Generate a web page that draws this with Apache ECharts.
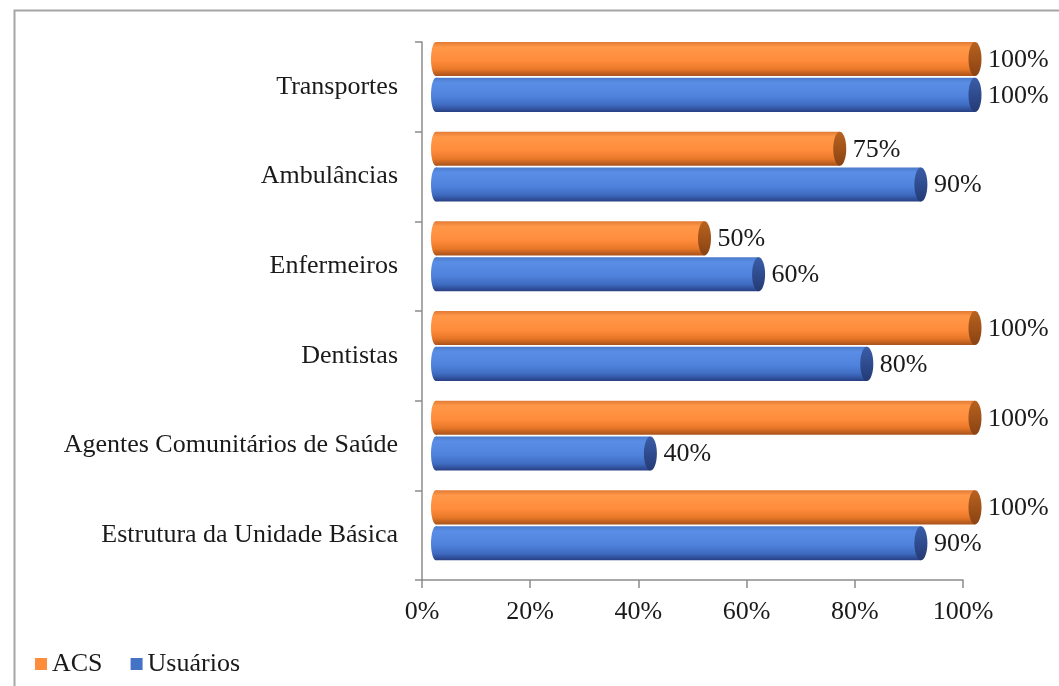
<!DOCTYPE html>
<html>
<head>
<meta charset="utf-8">
<script src="https://cdn.jsdelivr.net/npm/echarts@6/dist/echarts.min.js"></script>
<style>
  html, body { margin: 0; padding: 0; background: #fff; }
  #chart { width: 1059px; height: 686px; }
</style>
</head>
<body>
<div id="chart"></div>
<script>
  // categories from bottom to top (category axis grows upwards)
  const categories = ['Estrutura da Unidade Básica', 'Agentes Comunitários de Saúde', 'Dentistas',
                      'Enfermeiros', 'Ambulâncias', 'Transportes'];
  const acsValues = [100, 100, 100, 50, 75, 100];
  const usuariosValues = [90, 40, 80, 60, 90, 100];
  const xTicks = [0, 20, 40, 60, 80, 100];

  const FONT = '"Liberation Serif", "DejaVu Serif", serif';
  const FS = 26;

  // colours for the fake 3D cylinders
  const palettes = {
    ACS: {
      legend: '#FF8C3A',
      body: ['#E27A35', '#FF9848', '#FF8C3C', '#E87828', '#A8521A'],
      cap: ['#B8621F', '#8A4313']
    },
    'Usuários': {
      legend: '#4472C4',
      body: ['#4B7BCB', '#5A8EE6', '#4F82DC', '#3E6BC0', '#283F84'],
      cap: ['#3A5DA8', '#243A75']
    }
  };

  function grad(stops) {
    return new echarts.graphic.LinearGradient(0, 0, 0, 1, [
      { offset: 0, color: stops[0] },
      { offset: 0.15, color: stops[1] },
      { offset: 0.55, color: stops[2] },
      { offset: 0.8, color: stops[3] },
      { offset: 1, color: stops[4] }
    ]);
  }

  // ACS bar sits in the upper part of the band, Usuários just below it
  function makeRender(name, upper) {
    const pal = palettes[name];
    return function (params, api) {
      const cat = api.value(0);
      const val = api.value(1);
      const p0 = api.coord([0, cat]);
      const p1 = api.coord([val, cat]);
      const band = api.size([0, 1])[1];
      const h = band * 0.38;
      const top = upper ? p0[1] - band * 0.5 : p0[1] - band * 0.5 + h + band * 0.02;
      const dx = 12;
      const x0 = p0[0] + dx;
      const x1 = p1[0] + dx;
      const cy = top + h / 2;
      return {
        type: 'group',
        children: [
          { type: 'ellipse', shape: { cx: x0 + 2, cy: cy, rx: 5, ry: h / 2 },
            style: { fill: grad(pal.body) } },
          { type: 'rect', shape: { x: x0 + 2, y: top, width: x1 - x0 - 2, height: h },
            style: { fill: grad(pal.body) } },
          { type: 'ellipse', shape: { cx: x1, cy: cy, rx: 6.5, ry: h / 2 },
            style: { fill: new echarts.graphic.LinearGradient(0, 0, 0, 1, [
              { offset: 0, color: pal.cap[0] }, { offset: 1, color: pal.cap[1] }]) } },
          { type: 'text', x: x1 + 13, y: cy + 1,
            style: { text: val + '%', fill: '#1a1a1a', font: FS + 'px ' + FONT,
                     align: 'left', verticalAlign: 'middle' } }
        ]
      };
    };
  }

  const chart = echarts.init(document.getElementById('chart'));
  chart.setOption({
    animation: false,
    backgroundColor: '#fff',
    graphic: [{
      type: 'rect', left: 12, top: 8,
      shape: { width: 1100, height: 700 },
      style: { fill: 'none', stroke: '#a6a6a6', lineWidth: 2 }
    }],
    grid: { left: 422, right: 96, top: 42, bottom: 106 },
    legend: {
      left: 30, top: 646,
      icon: 'rect', itemWidth: 12, itemHeight: 12, itemGap: 28,
      textStyle: { fontFamily: FONT, fontSize: FS, color: '#1a1a1a' },
      data: ['ACS', 'Usuários']
    },
    xAxis: {
      type: 'value', min: 0, max: 100, interval: 20,
      axisLine: { show: true, lineStyle: { color: '#8c8c8c', width: 1.5 } },
      axisTick: { show: true, length: 8, lineStyle: { color: '#8c8c8c', width: 1.5 } },
      splitLine: { show: false },
      axisLabel: {
        margin: 19, fontFamily: FONT, fontSize: FS, color: '#1a1a1a',
        formatter: function (v) { return xTicks.indexOf(v) >= 0 ? v + '%' : ''; }
      }
    },
    yAxis: {
      type: 'category', data: categories,
      axisLine: { show: true, lineStyle: { color: '#8c8c8c', width: 1.5 } },
      axisTick: { show: true, length: 7, lineStyle: { color: '#8c8c8c', width: 1.5 } },
      axisLabel: { margin: 24, fontFamily: FONT, fontSize: FS, color: '#1a1a1a' }
    },
    series: [
      {
        name: 'ACS', type: 'custom',
        itemStyle: { color: palettes.ACS.legend },
        renderItem: makeRender('ACS', true),
        encode: { y: 0, x: 1 },
        data: acsValues.map(function (v, i) { return [i, v]; })
      },
      {
        name: 'Usuários', type: 'custom',
        itemStyle: { color: palettes['Usuários'].legend },
        renderItem: makeRender('Usuários', false),
        encode: { y: 0, x: 1 },
        data: usuariosValues.map(function (v, i) { return [i, v]; })
      }
    ]
  });
</script>
</body>
</html>
